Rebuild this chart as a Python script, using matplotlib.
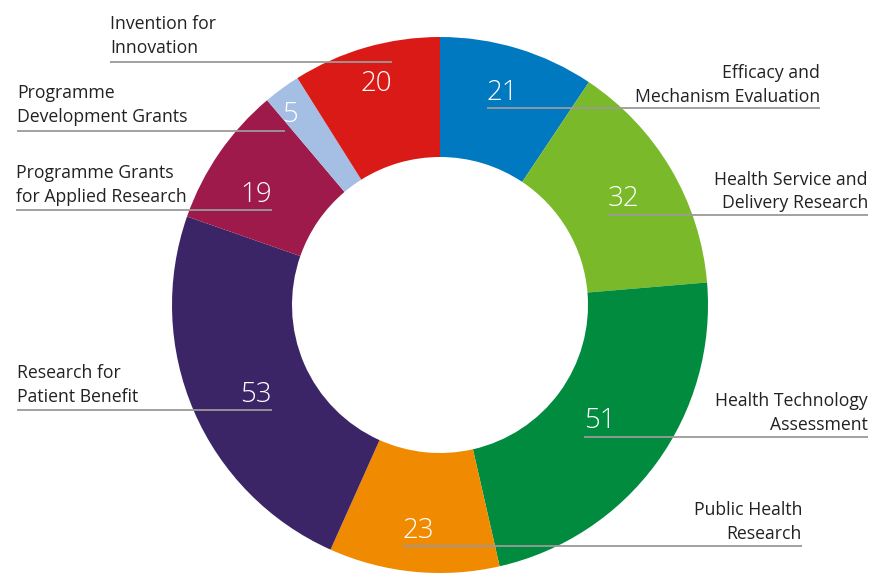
import matplotlib
matplotlib.use("Agg")
import matplotlib.pyplot as plt

# ---- data ----
categories = ["Efficacy and\nMechanism Evaluation",
              "Health Service and\nDelivery Research",
              "Health Technology\nAssessment",
              "Public Health\nResearch",
              "Research for\nPatient Benefit",
              "Programme Grants\nfor Applied Research",
              "Programme\nDevelopment Grants",
              "Invention for\nInnovation"]
values = [21, 32, 51, 23, 53, 19, 5, 20]
colors = ["#0079C1", "#7AB929", "#008B3E", "#F08A00",
          "#3C2566", "#9E1A4A", "#A5BFE4", "#DA1A16"]

# ---- layout (pixel coords, top-left origin) ----
W, H = 873, 574
CX, CY, R, RIN = 440, 305, 268, 148
# (line_x0, line_x1, line_y, side, number_below_line, text_gap)
layout = [
    (487, 820, 108, "R", False, 6.5),
    (608, 868, 215, "R", False, 6.5),
    (584, 868, 437, "R", False, 7),
    (403, 802, 546, "R", False, 7),
    (17, 272, 410, "L", False, 8),
    (16, 272, 210, "L", False, 8),
    (17, 285, 131, "L", False, 9),
    (110, 392, 62, "L", True, 9),
]

plt.rcParams['font.family'] = ['Open Sans', 'DejaVu Sans']
fig = plt.figure(figsize=(W / 100, H / 100), dpi=100)
ax = fig.add_axes([0, 0, 1, 1])

def Y(y):
    return H - y

ax.pie(values, colors=colors, startangle=90, counterclock=False,
       center=(CX, Y(CY)), radius=R,
       wedgeprops=dict(width=R - RIN, linewidth=0))
ax.set_xlim(0, W)
ax.set_ylim(0, H)
ax.set_aspect('equal')
ax.axis('off')

for cat, val, (x0, x1, ly, side, below, gap) in zip(categories, values, layout):
    ax.plot([x0, x1], [Y(ly), Y(ly)], color="#9a9a9a", lw=1.3,
            solid_capstyle='butt', zorder=5)
    tx = x1 if side == "R" else x0
    ax.text(tx, Y(ly) + gap, cat, ha='right' if side == "R" else 'left',
            va='baseline', fontsize=12.7, color="#222222",
            linespacing=1.42, zorder=6)
    if side == "R":
        nx, nha = x0, 'left'
    elif val < 10:
        nx, nha = x1 + 5, 'center'
    else:
        nx, nha = x1, 'right'
    ny = Y(ly) - 29 if below else Y(ly) + 8.5
    ax.text(nx, ny, str(val), ha=nha, va='baseline', fontsize=20,
            color="white", fontweight='light', zorder=6)

fig.savefig("out.png", dpi=100)
